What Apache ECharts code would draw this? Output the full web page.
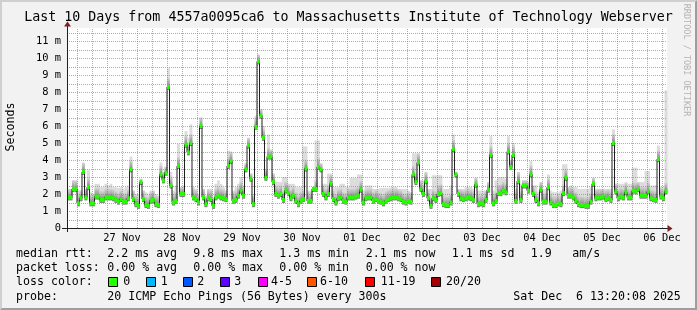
<!DOCTYPE html>
<html><head><meta charset="utf-8">
<script src="https://cdn.jsdelivr.net/npm/echarts@6/dist/echarts.min.js"></script>
<style>html,body{margin:0;padding:0;background:#f2f2f2}#c{width:697px;height:310px}</style>
</head><body><div id="c"></div>
<script>
// ---- data (hourly steps over the last 10 days, values in ms) ----
const median = [
1.8,1.8,2.3,2.3,1.45,1.75,3.3,1.8,2.4,1.45,
1.45,1.85,1.85,1.65,1.65,1.8,1.8,1.8,1.75,1.65,
1.55,1.7,1.55,1.55,1.75,3.45,1.7,1.4,1.3,2.7,
1.7,1.35,1.3,1.6,1.65,1.4,1.35,3.15,2.8,3.25,
8.3,2.5,1.5,1.6,3.65,2.0,2.0,4.9,4.45,5.0,
1.8,1.7,1.5,6.0,1.8,1.4,1.75,1.7,1.3,1.8,
1.9,1.8,1.75,1.7,3.65,3.95,1.6,1.65,1.9,2.2,
1.9,3.45,4.85,2.9,1.4,5.95,9.8,6.6,5.3,2.95,
4.2,4.2,2.7,2.0,1.9,2.0,1.65,2.2,2.05,1.75,
1.9,1.6,1.4,1.6,1.7,3.5,1.6,1.6,2.3,2.3,
3.6,3.45,2.0,1.8,2.0,2.6,1.7,1.5,1.75,1.8,
1.6,1.55,1.8,1.8,1.8,1.85,1.9,2.25,1.5,1.75,
1.8,1.8,1.6,1.7,1.6,1.55,1.45,1.6,1.7,1.75,
1.8,1.8,1.75,1.7,1.55,1.5,1.6,1.55,3.15,2.7,
3.85,2.3,2.0,2.75,1.75,1.3,1.75,1.65,2.0,2.05,
1.4,1.35,1.35,1.5,4.65,3.15,2.0,1.75,1.7,1.75,
1.8,1.75,1.65,2.55,1.4,1.45,1.4,1.65,2.25,4.3,
1.45,1.6,2.05,2.05,2.2,2.1,4.5,3.6,4.3,1.6,
2.75,1.65,2.5,2.5,2.2,3.15,2.0,1.65,1.45,2.25,
1.55,1.55,2.4,1.5,1.35,1.35,1.45,1.4,2.05,2.95,
1.9,1.9,1.8,1.6,1.4,1.35,1.35,1.3,1.3,1.55,
2.6,1.75,1.8,1.8,1.85,1.7,1.75,1.65,5.0,2.15,
1.75,1.85,1.8,2.1,1.8,1.8,2.2,2.15,2.3,1.9,
1.9,1.9,2.15,1.75,1.7,1.65,4.05,1.85,1.75,2.15
];
const smokeHi = [
2.3,2.3,2.8,2.8,2.2,2.2,3.85,2.3,3.4,2.1,
2.0,2.6,2.6,2.4,2.4,2.6,2.5,2.6,2.4,2.4,
2.35,2.4,2.3,2.4,2.5,4.2,2.2,2.0,2.0,2.9,
2.2,2.1,2.0,2.2,2.2,2.0,1.9,3.85,3.3,3.6,
9.4,3.3,2.2,2.5,4.95,2.4,2.4,5.7,5.3,6.1,
2.4,2.3,2.0,6.5,2.3,1.9,2.3,2.3,1.8,2.6,
2.8,2.6,2.4,2.2,4.55,4.5,2.2,2.4,2.6,3.0,
2.5,3.8,5.3,3.2,1.9,6.6,10.2,7.0,6.0,3.4,
5.5,4.6,3.2,2.7,2.7,2.7,3.0,3.0,2.6,2.6,
2.6,2.4,2.4,2.4,4.8,4.8,2.2,2.2,2.4,5.15,
5.15,3.8,2.6,2.6,3.2,3.2,2.4,2.4,2.4,2.6,
2.6,2.4,2.4,2.95,2.95,2.95,3.15,3.15,2.2,2.5,
2.5,2.5,2.3,2.3,2.3,2.35,2.35,2.35,2.35,2.4,
2.4,2.4,2.3,2.3,2.3,2.3,2.2,2.1,4.4,4.4,
4.4,2.8,2.8,3.3,2.3,2.3,3.1,3.1,3.1,3.1,
2.3,2.3,2.3,2.5,5.5,3.3,2.3,2.3,2.3,2.4,
2.4,2.4,2.3,2.95,2.2,2.2,2.2,2.2,2.7,5.4,
2.2,2.8,3.0,3.0,3.0,2.9,5.4,4.0,5.0,2.3,
3.3,2.6,2.8,2.8,2.7,3.95,2.5,2.5,2.1,2.7,
2.3,2.3,3.15,2.2,2.1,2.1,2.1,2.2,3.75,3.75,
2.4,2.5,2.4,2.4,2.3,2.3,2.3,2.3,2.3,2.4,
2.95,2.3,2.3,2.3,2.3,2.3,2.3,2.3,5.8,2.6,
2.6,2.6,2.6,2.7,2.6,2.6,3.55,3.55,2.7,2.7,
2.7,3.35,3.35,2.5,2.5,2.5,4.85,2.4,2.4,8.1
];
const dayLabels = ['27 Nov','28 Nov','29 Nov','30 Nov','01 Dec','02 Dec','03 Dec','04 Dec','05 Dec','06 Dec'];
const dayLabelHours = [22,46,70,94,118,142,166,190,214,238];
const yTicks = [0,1,2,3,4,5,6,7,8,9,10,11];
const lossLabels = ['0','1','2','3','4-5','6-10','11-19','20/20'];
const lossColors = ['#26ff00','#00b8ff','#0059ff','#5e00ff','#ff00ff','#ff5500','#ff0000','#a00000'];
const statsRtt = ['2.2 ms avg','9.8 ms max','1.3 ms min','2.1 ms now','1.1 ms sd','1.9','am/s'];
const statsLoss = ['0.00 % avg','0.00 % max','0.00 % min','0.00 % now'];
const titleText = 'Last 10 Days from 4557a0095ca6 to Massachusetts Institute of Technology Webserver';
const probeText = '20 ICMP Echo Pings (56 Bytes) every 300s';
const dateText = 'Sat Dec  6 13:20:08 2025';

// ---- chart ----
const X_MAX = 240, Y_MAX = 200/17;
const MONO = '"DejaVu Sans Mono", monospace';
const chart = echarts.init(document.getElementById('c'), null, {renderer:'canvas'});

const gridLines = [];
for (let h = 4; h < X_MAX; h += 6) gridLines.push([0, h, ((h - 10) % 24 === 0) ? 1 : 0]);
for (let v = 0.5; v < Y_MAX; v += 0.5) gridLines.push([1, v, (Math.abs(v - Math.round(v)) < 1e-6) ? 1 : 0]);

const smokeData = median.map((m, i) => [i, m, smokeHi[i]]);
const lineData = median.map((m, i) => [i, m]).concat([[X_MAX, median[median.length - 1]]]);

function smokeItem(params, api) {
  const i = api.value(0), m = api.value(1), hi = Math.max(api.value(2), m);
  const pM = api.coord([i, m]), pH = api.coord([i + 1, hi]);
  const x0 = pM[0], x1 = pH[0], yM = pM[1], yH = pH[1];
  const w = x1 - x0 + 0.4;
  const darkTop = Math.max(yH, yM - 9);
  return {type:'group', children:[
    {type:'rect', shape:{x:x0, y:yH, width:w, height:(yM + 3) - yH}, style:{fill:'#dcdcdc'}},
    {type:'rect', shape:{x:x0, y:darkTop, width:w, height:(yM + 3) - darkTop},
      style:{fill:new echarts.graphic.LinearGradient(0,0,0,1,[
        {offset:0, color:'#d6d6d6'},{offset:0.55, color:'#9a9a9a'},{offset:0.75, color:'#5a5a5a'},{offset:1, color:'#8a8a8a'}])}}
  ]};
}
function greenItem(params, api) {
  const i = api.value(0), m = api.value(1);
  const p0 = api.coord([i, m]), p1 = api.coord([i + 1, m]);
  return {type:'rect', shape:{x:p0[0], y:p0[1] - 2, width:p1[0] - p0[0] + 0.3, height:4}, style:{fill:lossColors[0]}};
}
function gridItem(params, api) {
  const o = api.value(0), v = api.value(1), major = api.value(2);
  const stroke = major ? 'rgba(222,79,79,0.6)' : 'rgba(143,143,143,0.75)';
  let shape;
  if (o === 0) {
    const a = api.coord([v, 0]), b = api.coord([v, Y_MAX]);
    const x = Math.round(a[0]) + 0.5;
    shape = {x1:x, y1:a[1], x2:x, y2:b[1]};
  } else {
    const a = api.coord([0, v]), b = api.coord([X_MAX, v]);
    const y = Math.round(a[1]) + 0.5;
    shape = {x1:a[0], y1:y, x2:b[0], y2:y};
  }
  return {type:'line', shape, style:{stroke, lineWidth:1, lineDash:[1,1]}};
}

const graphics = [];
// frame
graphics.push({type:'polygon', shape:{points:[[0,0],[697,0],[695,2],[2,2],[2,308],[0,310]]}, style:{fill:'#cfcfcf'}});
graphics.push({type:'polygon', shape:{points:[[697,0],[697,310],[0,310],[2,308],[695,308],[695,2]]}, style:{fill:'#9e9e9e'}});
// title, unit, watermark
graphics.push({type:'text', x:348.5, y:18, style:{text:titleText, font:'13.3px ' + MONO, fill:'#000', align:'center', verticalAlign:'middle'}});
graphics.push({type:'text', x:11, y:127, rotation:Math.PI/2, style:{text:'Seconds', font:'11.6px ' + MONO, fill:'#000', align:'center', verticalAlign:'middle'}});
graphics.push({type:'text', x:686, y:60, rotation:-Math.PI/2, style:{text:'RRDTOOL / TOBI OETIKER', font:'8.5px ' + MONO, fill:'#b4b4b4', align:'center', verticalAlign:'middle'}});
// axis extensions and arrows
graphics.push({type:'line', shape:{x1:62, y1:228.5, x2:668, y2:228.5}, style:{stroke:'#1f1f1f', lineWidth:1}, z:10});
graphics.push({type:'line', shape:{x1:67.5, y1:232, x2:67.5, y2:26}, style:{stroke:'#1f1f1f', lineWidth:1}, z:10});
graphics.push({type:'polygon', shape:{points:[[64,26.5],[71,26.5],[67.5,21.5]]}, style:{fill:'#801f1f'}, z:11});
graphics.push({type:'polygon', shape:{points:[[667.5,225],[667.5,232],[672.5,228.5]]}, style:{fill:'#801f1f'}, z:11});
// legend
const LF = '11.6px ' + MONO;
const rowY = [253.5, 268, 282.3, 296.7];
const statX = [107.3, 193.3, 279.3, 365.7, 451.7, 530.7, 572.3];
function txt(x, y, s) { graphics.push({type:'text', x:x, y:y, style:{text:s, font:LF, fill:'#000', verticalAlign:'middle'}}); }
txt(16, rowY[0], 'median rtt:');
statsRtt.forEach((s, k) => txt(statX[k], rowY[0], s));
txt(16, rowY[1], 'packet loss:');
statsLoss.forEach((s, k) => txt(statX[k], rowY[1], s));
txt(16, rowY[2], 'loss color:');
const boxX = [108, 146, 183, 220, 258, 307, 365, 431];
const boxTextX = [123.3, 160.7, 197.3, 234.3, 271, 320, 380.7, 446];
lossLabels.forEach((s, k) => {
  graphics.push({type:'rect', shape:{x:boxX[k] + 0.5, y:277.5, width:9, height:9}, style:{fill:lossColors[k], stroke:'#000', lineWidth:1}});
  txt(boxTextX[k], rowY[2], s);
});
txt(16, rowY[3], 'probe:');
txt(107.3, rowY[3], probeText);
txt(513.3, rowY[3], dateText);

chart.setOption({
  animation:false,
  backgroundColor:'#f2f2f2',
  grid:{left:67, top:28, width:600, height:200, show:true, backgroundColor:'#ffffff', borderWidth:0},
  xAxis:{type:'value', min:0, max:X_MAX,
    axisLine:{show:false}, axisTick:{show:false}, splitLine:{show:false},
    axisLabel:{customValues:dayLabelHours, formatter:v => dayLabels[dayLabelHours.indexOf(v)] || '',
      fontFamily:MONO, fontSize:10.4, color:'#000', margin:5}},
  yAxis:{type:'value', min:0, max:Y_MAX,
    axisLine:{show:false}, axisTick:{show:false}, splitLine:{show:false},
    axisLabel:{customValues:yTicks, formatter:v => v === 0 ? '0' : (v + ' m'),
      fontFamily:MONO, fontSize:10.4, color:'#000', margin:6}},
  graphic:graphics,
  series:[
    {type:'custom', renderItem:smokeItem, data:smokeData, z:1, silent:true},
    {type:'custom', renderItem:gridItem, data:gridLines, z:2, silent:true},
    {type:'line', step:'end', data:lineData, showSymbol:false, symbol:'none', lineStyle:{color:'#202020', width:1}, z:3, silent:true},
    {type:'custom', renderItem:greenItem, data:median.map((m, i) => [i, m]), z:4, silent:true}
  ]
});
</script>
</body></html>
